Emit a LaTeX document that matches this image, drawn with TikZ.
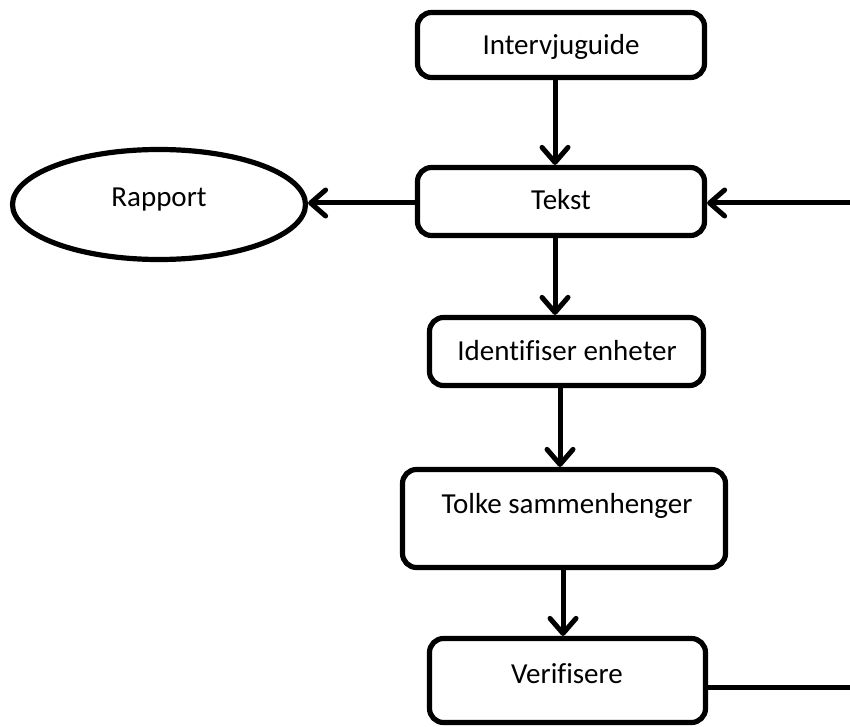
\documentclass[tikz,border=0pt]{standalone}
\usepackage{fontspec}
\setmainfont{Carlito}[Ligatures=NoCommon]
\usetikzlibrary{arrows.meta,shapes.geometric}

\tikzset{
  stepbox/.style={draw=black, line width=5.2pt, rounded corners=14pt, fill=white,
    inner sep=0pt},
  oval/.style={draw=black, line width=5.2pt, ellipse, fill=white, inner sep=0pt},
  lbl/.style={anchor=base, inner sep=0pt, font=\fontsize{29}{34}\selectfont},
  flow/.style={line width=5pt, -{Straight Barb[length=15pt,width=26pt,round]}},
  plain/.style={line width=5pt},
}

\begin{document}
\begin{tikzpicture}[x=1pt,y=-1pt]
  \useasboundingbox (0,0) rectangle (850,727);
  \clip (0,0) rectangle (850,727);

  % process boxes
  \node[stepbox, minimum width=287pt, minimum height=65pt] (intv) at (561,45) {};
  \node[stepbox, minimum width=287pt, minimum height=68pt] (tekst) at (561,201.5) {};
  \node[oval, minimum width=293pt, minimum height=110pt] (rapport) at (159,204.5) {};
  \node[stepbox, minimum width=274pt, minimum height=68pt] (ident) at (566.5,351.5) {};
  \node[stepbox, minimum width=323pt, minimum height=98pt] (tolke) at (564,518.5) {};
  \node[stepbox, minimum width=276pt, minimum height=84pt] (verif) at (567.5,680.5) {};

  % labels
  \node[lbl] (intvtxt) at (561,55) {Intervjuguide};
  \node[lbl] (teksttxt) at (561,210) {Tekst};
  \node[lbl] (rapporttxt) at (159,207) {Rapport};
  \node[lbl] (identtxt) at (567,360) {Identifiser enheter};
  \node[lbl] (tolketxt) at (567,513) {Tolke sammenhenger};
  \node[lbl] (veriftxt) at (567,683) {Verifisere};

  % main flow
  \draw[flow] ([xshift=-6pt]intv.south) -- ([xshift=-6pt]intv.south |- tekst.north);
  \draw[flow] ([xshift=-6pt]tekst.south) -- ([xshift=-6pt]tekst.south |- ident.north);
  \draw[flow] ([xshift=-6.5pt]ident.south) -- ([xshift=-6.5pt]ident.south |- tolke.north);
  \draw[flow] ([xshift=-1pt]tolke.south) -- ([xshift=-1pt]tolke.south |- verif.north);
  \draw[flow] ([yshift=-1.5pt]tekst.west) -- ([yshift=-1.5pt]tekst.west -| rapport.east);

  % feedback loop back to the text
  \coordinate (loopbot) at (853,687);
  \coordinate (looptop) at (853,203);
  \draw[plain] ([yshift=-6.5pt]verif.east) -- (loopbot) -- (looptop);
  \draw[flow] (looptop) -- (looptop -| tekst.east);
\end{tikzpicture}
\end{document}
